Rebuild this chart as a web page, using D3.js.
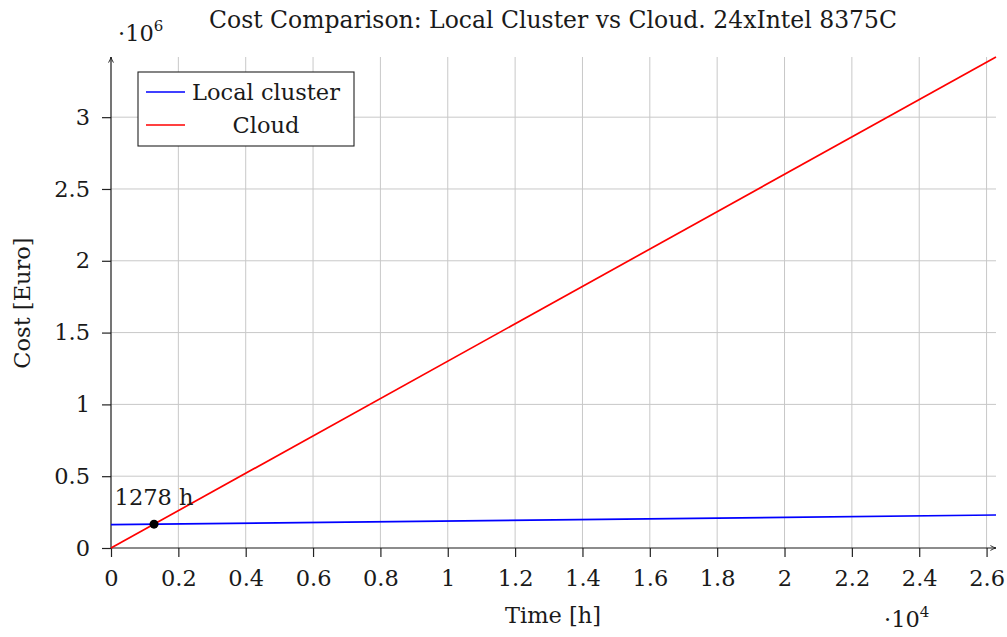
<!DOCTYPE html>
<html>
<head>
<meta charset="utf-8">
<script src="https://cdn.jsdelivr.net/npm/d3@7"></script>
<style>
  html, body { margin: 0; padding: 0; background: #fff; }
  svg { display: block; font-family: "DejaVu Serif", serif; }
</style>
</head>
<body>
<svg id="chart" width="1007" height="637"></svg>
<script>
// Operating hours over three years and the cost of each option (Euro)
const hours = [0, 26280];
const localCost = [162900, 229650];
const cloudCost = [0, 3419000];
const seriesNames = ["Local cluster", "Cloud"];
const seriesColors = ["#0000ff", "#ff0000"];
const breakEvenHours = 1278;
const breakEvenCost = 166200;
const xTicks = [0, 2000, 4000, 6000, 8000, 10000, 12000, 14000, 16000, 18000, 20000, 22000, 24000, 26000];
const yTicks = [0, 500000, 1000000, 1500000, 2000000, 2500000, 3000000];

const svg = d3.select("#chart");
const plotLeft = 111, plotRight = 996, plotTop = 57, plotBottom = 548;
const fs = 22.5;
const ink = "#1a1a1a";

const x = d3.scaleLinear().domain([0, 26280]).range([plotLeft, plotRight]);
const y = d3.scaleLinear().domain([0, 3419000]).range([plotBottom, plotTop]);

// grid
const grid = svg.append("g").attr("stroke", "#c8c8c8").attr("stroke-width", 1);
grid.selectAll("line.v").data(xTicks.filter(d => d > 0)).join("line").attr("class", "v")
  .attr("x1", d => x(d)).attr("x2", d => x(d)).attr("y1", plotBottom).attr("y2", plotTop);
grid.selectAll("line.h").data(yTicks.filter(d => d > 0)).join("line").attr("class", "h")
  .attr("y1", d => y(d)).attr("y2", d => y(d)).attr("x1", plotLeft).attr("x2", plotRight);

// axes
const xAxis = d3.axisBottom(x).tickValues(xTicks).tickSize(9).tickPadding(13)
  .tickFormat(d => d === 0 ? "0" : String(+(d / 10000).toFixed(1)));
const gx = svg.append("g").attr("transform", `translate(0,${plotBottom})`).call(xAxis);
const yAxis = d3.axisLeft(y).tickValues(yTicks).tickSize(9).tickPadding(12)
  .tickFormat(d => d === 0 ? "0" : String(+(d / 1e6).toFixed(1)));
const gy = svg.append("g").attr("transform", `translate(${plotLeft},0)`).call(yAxis);
[gx, gy].forEach(g => {
  g.select(".domain").remove();
  g.selectAll(".tick line").attr("stroke", "#222").attr("stroke-width", 1.2);
  g.selectAll("text").attr("font-family", "DejaVu Serif, serif").attr("font-size", fs).attr("fill", ink);
});

// axis lines with arrowheads
const defs = svg.append("defs");
defs.append("marker").attr("id", "arrow").attr("viewBox", "0 0 10 10")
  .attr("refX", 9).attr("refY", 5).attr("markerWidth", 7).attr("markerHeight", 7)
  .attr("markerUnits", "userSpaceOnUse").attr("orient", "auto")
  .append("path").attr("d", "M1,1.5 Q5,4 9,5 Q5,6 1,8.5").attr("fill", "none")
  .attr("stroke", ink).attr("stroke-width", 1.3);
svg.append("line").attr("x1", plotLeft).attr("x2", plotRight).attr("y1", plotBottom).attr("y2", plotBottom)
  .attr("stroke", ink).attr("stroke-width", 1.2).attr("marker-end", "url(#arrow)");
svg.append("line").attr("x1", plotLeft).attr("x2", plotLeft).attr("y1", plotBottom).attr("y2", plotTop)
  .attr("stroke", ink).attr("stroke-width", 1.2).attr("marker-end", "url(#arrow)");

// cost lines
const line = d3.line().x(d => x(d[0])).y(d => y(d[1]));
[localCost, cloudCost].forEach((vals, i) => {
  svg.append("path").datum(hours.map((h, j) => [h, vals[j]]))
    .attr("d", line).attr("fill", "none")
    .attr("stroke", seriesColors[i]).attr("stroke-width", 1.7);
});

// break-even point
svg.append("circle").attr("cx", x(breakEvenHours)).attr("cy", y(breakEvenCost))
  .attr("r", 4.5).attr("fill", "#000");
svg.append("text").attr("x", x(breakEvenHours)).attr("y", y(breakEvenCost) - 19)
  .attr("text-anchor", "middle").attr("font-size", fs).attr("fill", ink)
  .text(`${breakEvenHours} h`);

// scale factors
svg.append("text").attr("x", 118).attr("y", 41).attr("font-size", fs).attr("fill", ink)
  .html('·10<tspan dy="-10" font-size="15">6</tspan>');
svg.append("text").attr("x", 884).attr("y", 627).attr("font-size", fs).attr("fill", ink)
  .html('·10<tspan dy="-10" font-size="15">4</tspan>');

// title and axis labels
svg.append("text").attr("x", 553).attr("y", 28).attr("text-anchor", "middle")
  .attr("font-size", 23.5).attr("fill", ink)
  .text("Cost Comparison: Local Cluster vs Cloud. 24xIntel 8375C");
svg.append("text").attr("x", 553).attr("y", 623).attr("text-anchor", "middle")
  .attr("font-size", fs).attr("fill", ink).text("Time [h]");
svg.append("text").attr("transform", "translate(30,303) rotate(-90)").attr("text-anchor", "middle")
  .attr("font-size", fs).attr("fill", ink).text("Cost [Euro]");

// legend
const lg = svg.append("g");
lg.append("rect").attr("x", 138).attr("y", 72).attr("width", 216).attr("height", 74)
  .attr("fill", "#fff").attr("stroke", "#222").attr("stroke-width", 1.1);
seriesNames.forEach((name, i) => {
  const ly = 92 + i * 33;
  lg.append("line").attr("x1", 146).attr("x2", 185).attr("y1", ly).attr("y2", ly)
    .attr("stroke", seriesColors[i]).attr("stroke-width", 1.7);
  lg.append("text").attr("x", 266).attr("y", ly + 8).attr("text-anchor", "middle")
    .attr("font-size", fs).attr("fill", ink).text(name);
});
</script>
</body>
</html>
